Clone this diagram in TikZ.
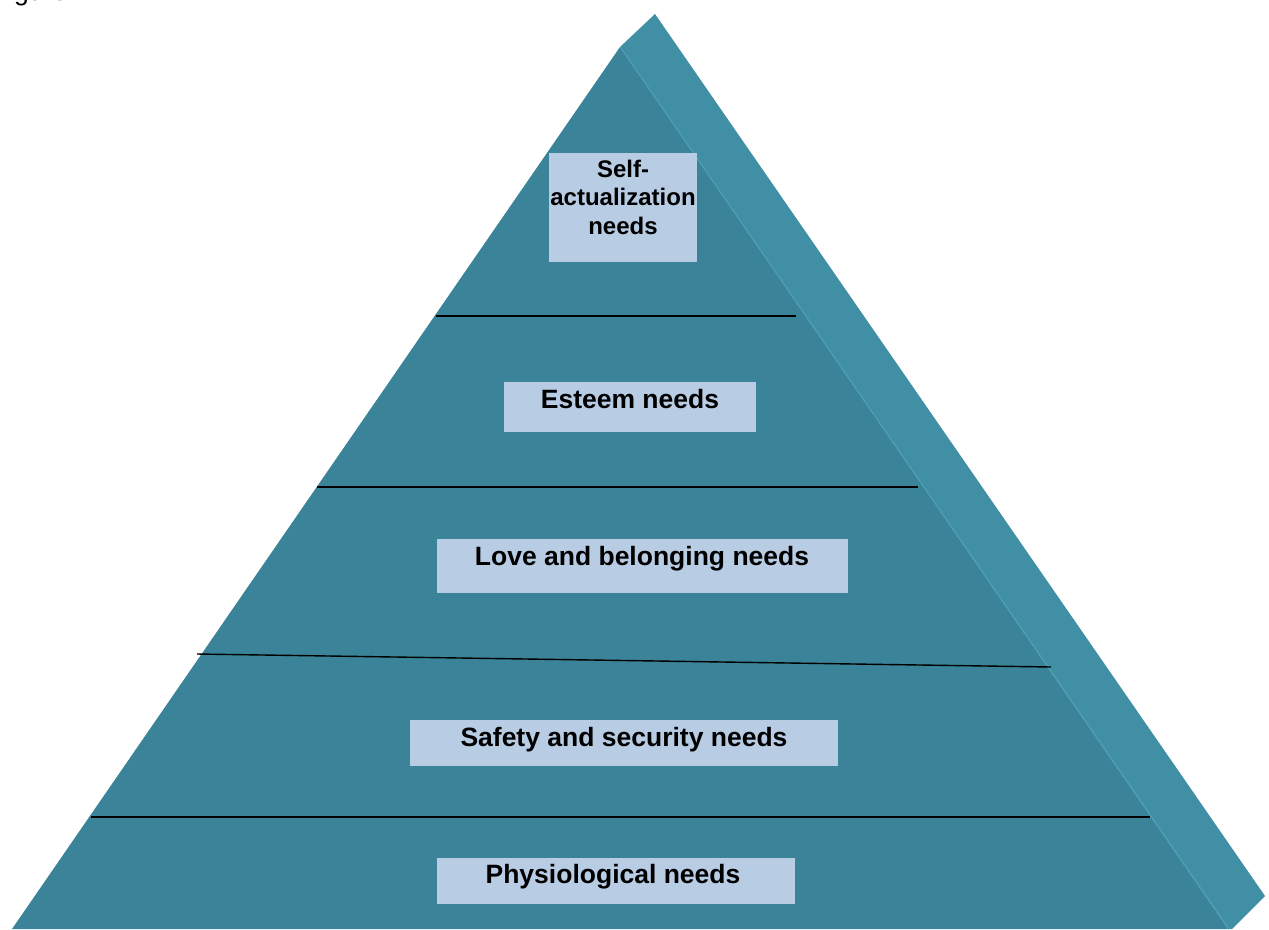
\documentclass[tikz,border=0pt]{standalone}
\usepackage{fontspec}
\setmainfont{Liberation Sans}
\definecolor{frontc}{RGB}{59,131,152}
\definecolor{sidec}{RGB}{65,143,165}
\definecolor{edgec}{RGB}{76,158,180}
\definecolor{boxc}{RGB}{184,204,228}
\begin{document}
\begin{tikzpicture}[x=1pt,y=-1pt,
  lbox/.style={draw=none,fill=boxc,inner sep=0pt},
  ltext/.style={font=\fontsize{26.5}{30}\selectfont\bfseries,anchor=base,inner sep=0pt,align=center},
  tier/.style={draw=black,line width=1.4pt}]
\useasboundingbox (0,0) rectangle (1269,929);
% partial caption
\node[anchor=base west,inner sep=0pt,font=\fontsize{26.5}{30}\selectfont] (cap) at (14,0.5) {gure};
% side face
\fill[sidec] (620,47) -- (655,14) -- (1265,896) -- (1232,929) -- (1228,929) -- cycle;
% front face
\fill[frontc] (620,47) -- (1228,929) -- (12,929) -- cycle;
\draw[edgec,line width=1.2pt] (621,48) -- (1229,929);
% tier lines
\coordinate (l1a) at (436,316); \coordinate (l1b) at (796,316);
\coordinate (l2a) at (317,487); \coordinate (l2b) at (918,487);
\coordinate (l3a) at (197,654); \coordinate (l3b) at (1051,667);
\coordinate (l4a) at (91,817);  \coordinate (l4b) at (1150,817);
\draw[tier] (l1a) -- (l1b);
\draw[tier] (l2a) -- (l2b);
\draw[tier] (l3a) -- (l3b);
\draw[tier] (l4a) -- (l4b);
% boxes
\node[lbox,minimum width=148pt,minimum height=109pt] (b1) at (623,207.5) {};
\node[lbox,minimum width=252pt,minimum height=50pt] (b2) at (630,407) {};
\node[lbox,minimum width=411pt,minimum height=54pt] (b3) at (642.5,566) {};
\node[lbox,minimum width=428pt,minimum height=46pt] (b4) at (624,743) {};
\node[lbox,minimum width=358pt,minimum height=46pt] (b5) at (616,881) {};
% texts
\node[ltext,font=\fontsize{24}{28.5}\selectfont\bfseries] (t1) at (623,234) {Self-\\actualization\\needs};
\node[ltext] (t2) at (630,408) {Esteem needs};
\node[ltext] (t3) at (642,565) {Love and belonging needs};
\node[ltext] (t4) at (624,746) {Safety and security needs};
\node[ltext] (t5) at (613,883) {Physiological needs};
\end{tikzpicture}
\end{document}
